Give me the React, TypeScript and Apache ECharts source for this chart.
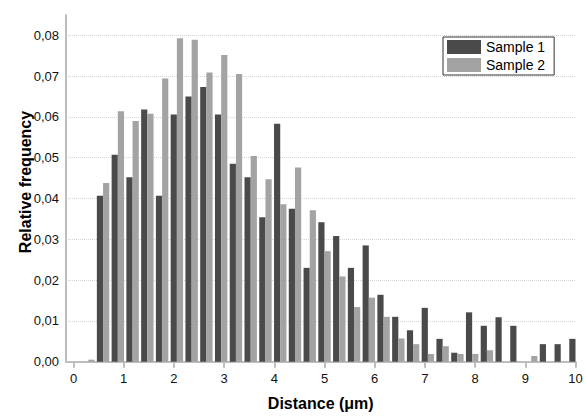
import React, { useEffect, useRef } from "react";
import * as echarts from "echarts";

// bin centres: 35 bins from 0 to 10 µm (step 10/34)
const binCount = 35;
const binStep = 10 / 34;

const sample1 = [
  0, 0, 0.0407, 0.0507, 0.0452, 0.0618, 0.0407, 0.0606, 0.065, 0.0673,
  0.0606, 0.0485, 0.0452, 0.0354, 0.0583, 0.0375, 0.023, 0.0342, 0.0308, 0.023,
  0.0285, 0.0164, 0.011, 0.0077, 0.0132, 0.0056, 0.0022, 0.0121, 0.0088, 0.0109,
  0.0088, 0, 0.0043, 0.0043, 0.0056,
];
const sample2 = [
  0, 0.0005, 0.0438, 0.0614, 0.059, 0.0608, 0.0694, 0.0793, 0.0789, 0.0709,
  0.0752, 0.0705, 0.0504, 0.0447, 0.0386, 0.0476, 0.0371, 0.0271, 0.0209, 0.0134,
  0.0157, 0.011, 0.0057, 0.0043, 0.0019, 0.0038, 0.0019, 0.0019, 0.0028, 0,
  0, 0.0014, 0, 0, 0,
];
const xTicks = [0, 1, 2, 3, 4, 5, 6, 7, 8, 9, 10];
const yTicks = [0, 0.01, 0.02, 0.03, 0.04, 0.05, 0.06, 0.07, 0.08];
const seriesNames = ["Sample 1", "Sample 2"];

const FONT = "Arial, 'Liberation Sans', sans-serif";

export default function App() {
  const ref = useRef<HTMLDivElement>(null);
  useEffect(() => {
    if (!ref.current) return;
    const chart = echarts.init(ref.current, null, { renderer: "svg" });
    const centres = Array.from({ length: binCount }, (_, k) => k * binStep);
    const d1 = centres.map((x, i) => [x, sample1[i]]);
    const d2 = centres.map((x, i) => [x, sample2[i]]);
    chart.setOption({
      animation: false,
      backgroundColor: "#ffffff",
      textStyle: { fontFamily: FONT },
      grid: { left: 66, right: 10.5, top: 14.9, bottom: 55.3, containLabel: false },
      legend: {
        data: seriesNames,
        orient: "vertical",
        left: 443,
        top: 37,
        itemWidth: 34,
        itemHeight: 14,
        itemGap: 4,
        icon: "rect",
        borderColor: "#333333",
        borderWidth: 1,
        backgroundColor: "#ffffff",
        padding: [3, 9, 3, 4],
        textStyle: { fontSize: 14, color: "#000000", fontFamily: FONT },
      },
      graphic: [
        {
          type: "text",
          x: 25,
          y: 182,
          rotation: Math.PI / 2,
          style: {
            text: "Relative frequency",
            font: `bold 16px ${FONT}`,
            fill: "#000000",
            align: "center",
            verticalAlign: "middle",
          },
        },
      ],
      xAxis: {
        type: "value",
        min: -0.15,
        max: 10,
        name: "Distance (\u03bcm)",
        nameLocation: "middle",
        nameGap: 34,
        nameTextStyle: { fontSize: 16, fontWeight: "bold", color: "#000000", fontFamily: FONT },
        axisLine: { show: true, onZero: false, lineStyle: { color: "#bdbdbd", width: 2 } },
        axisTick: { show: true, length: 6, lineStyle: { color: "#bdbdbd", width: 2 }, customValues: xTicks },
        axisLabel: {
          customValues: xTicks,
          fontSize: 13,
          color: "#111111",
          margin: 10,
          fontFamily: FONT,
        },
        splitLine: { show: false },
      },
      yAxis: {
        type: "value",
        min: 0,
        max: 0.085,
        axisLine: { show: true, onZero: false, lineStyle: { color: "#bdbdbd", width: 2 } },
        axisTick: { show: false, customValues: yTicks },
        axisLabel: {
          customValues: yTicks,
          fontSize: 13,
          color: "#111111",
          margin: 7,
          fontFamily: FONT,
          formatter: (v: number) => v.toFixed(2).replace(".", ","),
        },
        splitLine: { show: true, lineStyle: { color: "#d4d4d4", type: "dotted", width: 1 } },
      },
      series: [
        {
          name: seriesNames[0],
          type: "bar",
          data: d1,
          barWidth: 6.2,
          barGap: "0%",
          itemStyle: { color: "#4a4a4a" },
        },
        {
          name: seriesNames[1],
          type: "bar",
          data: d2,
          barWidth: 6.2,
          barGap: "0%",
          itemStyle: { color: "#a3a3a3" },
        },
      ],
    });
    return () => chart.dispose();
  }, []);
  return (
    <div
      ref={ref}
      style={{ position: "fixed", left: 0, top: 0, width: 586, height: 417 }}
    />
  );
}
